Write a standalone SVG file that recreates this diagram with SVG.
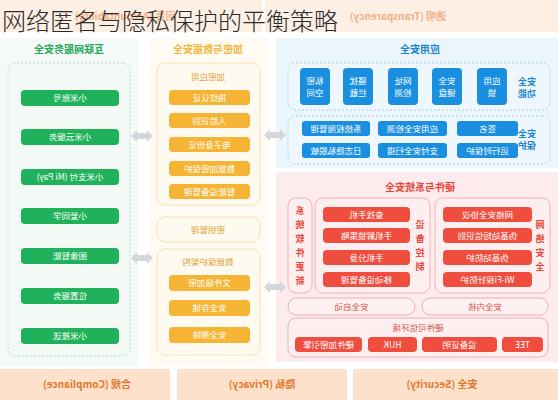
<svg xmlns="http://www.w3.org/2000/svg" width="558" height="400" viewBox="0 0 558 400">
<defs>
<style>
text{font-family:"Noto Sans CJK SC","Noto Sans",sans-serif;text-anchor:middle}
.w{fill:#fff;font-size:8.5px}
.g{fill:#1fb25a}
.y{fill:#f5b433}
.b{fill:#1a8fe0}
.r{fill:#ef4e3e}
.hg{fill:#27a85a;font-size:10px;font-weight:700}
.hy{fill:#f2b53d;font-size:10px;font-weight:700}
.hb{fill:#1a86d0;font-size:10px;font-weight:700}
.hr{fill:#e5483a;font-size:10px;font-weight:700}
.sy{fill:#e0a23a;font-size:8.5px}
.sb{fill:#1a86d0;font-size:9px;font-weight:700}
.sr{fill:#e5483a;font-size:9px;font-weight:700}
.bot{fill:#fde1cb}
.bt{fill:#e0782e;font-size:10px;font-weight:700}
.top{fill:#fdefe4}
.tt{fill:#f1b088;font-size:10px;font-weight:700}
.ybox{fill:#fffaf0;stroke:#f6e2b5;stroke-width:1}
.bbox{fill:#eef7fd;stroke:#a9cfe9;stroke-width:1;stroke-dasharray:2 2}
.rbox{fill:#fdeff0;stroke:#f0b3b7;stroke-width:1}
.rout{fill:#fdf1f1;stroke:#eeaeb0;stroke-width:1}
.ro{fill:#d9534a;font-size:8.5px}
.arr{fill:#d3d6db}
</style>
<path id="dbl" d="M-11 0 L-5 -6 L-5 -3 L5 -3 L5 -6 L11 0 L5 6 L5 3 L-5 3 L-5 6 Z"/>
</defs>
<rect width="558" height="400" fill="#fff"/>
<g transform="matrix(-1,0,0,1,558,0)">
  <g id="top-strip">
    <rect class="top" x="296" y="0" width="262" height="32"/>
    <rect class="top" x="0" y="0" width="293" height="32"/>
    <text class="tt" x="433" y="20">问责 (Accountability)</text>
    <text class="tt" x="160" y="20">透明 (Transparency)</text>
  </g>
  <g id="bg-columns">
    <rect x="420" y="38" width="138" height="328" fill="#f4fbf7"/>
    <rect x="290" y="38" width="118" height="328" fill="#fffbf3"/>
    <rect x="0" y="38" width="282" height="130" fill="#eaf5fc"/>
    <rect x="0" y="172" width="282" height="190" fill="#fdebed"/>
  </g>
  <g id="internet-services">
    <text class="hg" x="489" y="53">互联网服务安全</text>
    <rect x="428" y="63" width="122" height="293" rx="7" fill="#f3faf6" stroke="#b9dcc6" stroke-dasharray="2 2"/>
    <rect class="g" x="439" y="90" width="98" height="16" rx="4"/><text class="w" x="488" y="101">小米账号</text>
    <rect class="g" x="439" y="129" width="98" height="16" rx="4"/><text class="w" x="488" y="140">小米云服务</text>
    <rect class="g" x="439" y="169" width="98" height="16" rx="4"/><text class="w" x="488" y="180">小米支付 (Mi Pay)</text>
    <rect class="g" x="439" y="208" width="98" height="16" rx="4"/><text class="w" x="488" y="219">小爱同学</text>
    <rect class="g" x="439" y="248" width="98" height="16" rx="4"/><text class="w" x="488" y="259">图像智能</text>
    <rect class="g" x="439" y="288" width="98" height="16" rx="4"/><text class="w" x="488" y="299">位置服务</text>
    <rect class="g" x="439" y="328" width="98" height="16" rx="4"/><text class="w" x="488" y="339">小米推送</text>
  </g>
  <g id="encryption">
    <text class="hy" x="350" y="53">加密与数据安全</text>
    <rect class="ybox" x="298" y="63" width="103" height="142" rx="8"/>
    <text class="sy" x="350" y="80">加密应用</text>
    <rect class="y" x="308" y="90" width="81" height="15" rx="4"/><text class="w" x="348.500" y="100.500">指纹认证</text>
    <rect class="y" x="308" y="113" width="81" height="15" rx="4"/><text class="w" x="348.500" y="123.500">人脸识别</text>
    <rect class="y" x="308" y="137" width="81" height="15" rx="4"/><text class="w" x="348.500" y="147.500">电子身份证</text>
    <rect class="y" x="308" y="161" width="81" height="15" rx="4"/><text class="w" x="348.500" y="171.500">数据加密保护</text>
    <rect class="y" x="308" y="184" width="81" height="15" rx="4"/><text class="w" x="348.500" y="194.500">智能设备管理</text>
  </g>
  <g id="key-mgmt">
    <rect class="ybox" x="298" y="217" width="103" height="25" rx="8"/>
    <text class="sy" x="350" y="233">密钥管理</text>
  </g>
  <g id="data-protection">
    <rect class="ybox" x="298" y="249" width="103" height="106" rx="8"/>
    <text class="sy" x="350" y="265">数据保护架构</text>
    <rect class="y" x="308" y="275" width="81" height="16" rx="4"/><text class="w" x="348.500" y="286">文件级加密</text>
    <rect class="y" x="308" y="300" width="81" height="16" rx="4"/><text class="w" x="348.500" y="311">安全存储</text>
    <rect class="y" x="308" y="327" width="81" height="16" rx="4"/><text class="w" x="348.500" y="338">安全擦除</text>
  </g>
  <g id="app-security">
    <text class="hb" x="138" y="53">应用安全</text>
    <rect class="bbox" x="8" y="63" width="262" height="47" rx="8"/>
    <text class="sb" x="31" y="85">安全</text><text class="sb" x="31" y="97">功能</text>
    <rect class="b" x="51" y="68" width="30" height="37" rx="4"/><text class="w" x="66" y="84">应用</text><text class="w" x="66" y="96">锁</text>
    <rect class="b" x="96" y="68" width="30" height="37" rx="4"/><text class="w" x="111" y="84">安全</text><text class="w" x="111" y="96">键盘</text>
    <rect class="b" x="140" y="68" width="30" height="37" rx="4"/><text class="w" x="155" y="84">网址</text><text class="w" x="155" y="96">检测</text>
    <rect class="b" x="185" y="68" width="30" height="37" rx="4"/><text class="w" x="200" y="84">骚扰</text><text class="w" x="200" y="96">拦截</text>
    <rect class="b" x="228" y="68" width="30" height="37" rx="4"/><text class="w" x="243" y="84">私密</text><text class="w" x="243" y="96">空间</text>
    <rect class="bbox" x="8" y="116" width="262" height="48" rx="8"/>
    <text class="sb" x="31" y="137">安全</text><text class="sb" x="31" y="149">保护</text>
    <rect class="b" x="40" y="121" width="61" height="15" rx="3"/><text class="w" x="70.500" y="131.500">签名</text>
    <rect class="b" x="111" y="121" width="69" height="15" rx="3"/><text class="w" x="145.500" y="131.500">应用安全检测</text>
    <rect class="b" x="188" y="121" width="68" height="15" rx="3"/><text class="w" x="222" y="131.500">系统权限管理</text>
    <rect class="b" x="40" y="143" width="61" height="15" rx="3"/><text class="w" x="70.500" y="153.500">运行时保护</text>
    <rect class="b" x="111" y="143" width="69" height="15" rx="3"/><text class="w" x="145.500" y="153.500">支付安全扫描</text>
    <rect class="b" x="188" y="143" width="68" height="15" rx="3"/><text class="w" x="222" y="153.500">日志隐私脱敏</text>
  </g>
  <g id="hw-security">
    <text class="hr" x="138" y="191">硬件与系统安全</text>
    <rect class="rbox" x="246" y="198" width="24" height="95" rx="8"/>
    <text class="sr"><tspan x="258" y="214">系</tspan><tspan x="258" y="228">统</tspan><tspan x="258" y="242">软</tspan><tspan x="258" y="256">件</tspan><tspan x="258" y="270">更</tspan><tspan x="258" y="284">新</tspan></text>
    <rect class="rbox" x="128" y="198" width="115" height="95" rx="8"/>
    <text class="sr"><tspan x="138" y="228">设</tspan><tspan x="138" y="242">备</tspan><tspan x="138" y="256">控</tspan><tspan x="138" y="270">制</tspan></text>
    <rect class="r" x="148" y="207" width="87" height="15" rx="4"/><text class="w" x="191.500" y="217.500">查找手机</text>
    <rect class="r" x="148" y="228" width="87" height="15" rx="4"/><text class="w" x="191.500" y="238.500">手机解锁策略</text>
    <rect class="r" x="148" y="250" width="87" height="15" rx="4"/><text class="w" x="191.500" y="260.500">手机分身</text>
    <rect class="r" x="148" y="272" width="87" height="15" rx="4"/><text class="w" x="191.500" y="282.500">移动设备管理</text>
    <rect class="rbox" x="8" y="198" width="115" height="95" rx="8"/>
    <text class="sr"><tspan x="18" y="228">网</tspan><tspan x="18" y="242">络</tspan><tspan x="18" y="256">安</tspan><tspan x="18" y="270">全</tspan></text>
    <rect class="r" x="26" y="207" width="89" height="15" rx="4"/><text class="w" x="70.500" y="217.500">网络安全协议</text>
    <rect class="r" x="26" y="228" width="89" height="15" rx="4"/><text class="w" x="70.500" y="238.500">伪基站短信识别</text>
    <rect class="r" x="26" y="250" width="89" height="15" rx="4"/><text class="w" x="70.500" y="260.500">伪基站防护</text>
    <rect class="r" x="26" y="272" width="89" height="15" rx="4"/><text class="w" x="70.500" y="282.500">Wi-Fi探针防护</text>
    <rect class="rout" x="143" y="298" width="127" height="17" rx="8.500"/><text class="ro" x="206.500" y="309.500">安全启动</text>
    <rect class="rout" x="10" y="298" width="126" height="17" rx="8.500"/><text class="ro" x="73" y="309.500">安全内核</text>
    <rect class="rbox" x="10" y="318" width="260" height="39" rx="8"/>
    <text class="ro" x="140" y="331">硬件可信环境</text>
    <rect class="r" x="196" y="337" width="67" height="15" rx="4"/><text class="w" x="229.500" y="347.500">硬件加密引擎</text>
    <rect class="r" x="141" y="337" width="49" height="15" rx="4"/><text class="w" x="165.500" y="347.500">HUK</text>
    <rect class="r" x="61" y="337" width="75" height="15" rx="4"/><text class="w" x="98.500" y="347.500">设备证明</text>
    <rect class="r" x="15" y="337" width="41" height="15" rx="4"/><text class="w" x="35.500" y="347.500">TEE</text>
  </g>
  <g id="connectors">
    <use href="#dbl" class="arr" transform="translate(416,136)"/>
    <use href="#dbl" class="arr" transform="translate(416,258)"/>
    <use href="#dbl" class="arr" transform="translate(283,135)"/>
    <use href="#dbl" class="arr" transform="translate(283,287)"/>
  </g>
  <g id="bottom-strip">
    <rect class="bot" x="388" y="369" width="170" height="31"/>
    <rect class="bot" x="211" y="369" width="170" height="31"/>
    <rect class="bot" x="0" y="369" width="205" height="31"/>
    <text class="bt" x="471" y="388">合规 (Compliance)</text>
    <text class="bt" x="296" y="388">隐私 (Privacy)</text>
    <text class="bt" x="116" y="388">安全 (Security)</text>
  </g>
</g>
<text x="2" y="30" style="text-anchor:start;font-size:24px;font-weight:300;fill:#2b2b2b;font-family:'Noto Sans CJK SC','Noto Sans',sans-serif">网络匿名与隐私保护的平衡策略</text>
</svg>
